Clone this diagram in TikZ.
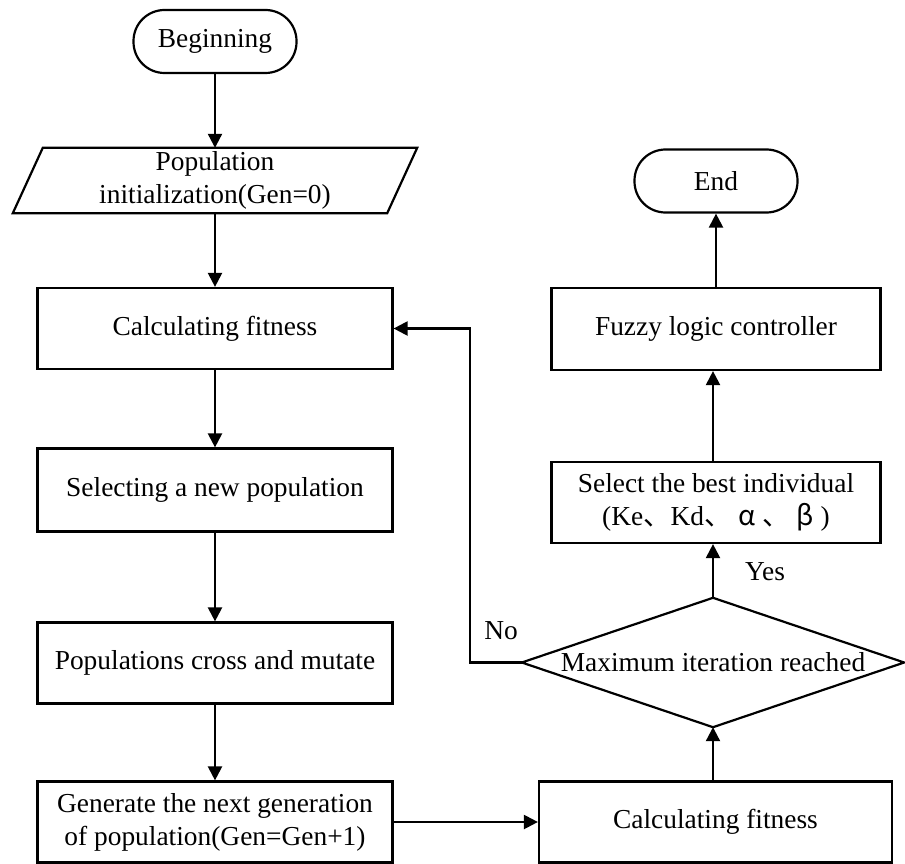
\documentclass[tikz,border=0pt]{standalone}
\usepackage{fontspec}
\setmainfont{Liberation Serif}
\newfontfamily\cjk{Noto Sans CJK SC}
\usetikzlibrary{arrows.meta}
\tikzset{
  every node/.style={font=\fontsize{27.4}{33}\selectfont},
  lw/.style={line width=2.2pt},
  term/.style={lw, draw, rounded corners=31pt, minimum width=163, minimum height=63, inner sep=0},
  box/.style={lw, draw, minimum width=355, minimum height=81, inner sep=0, align=center},
  plain/.style={inner sep=0, align=center},
  arr/.style={lw, -{Triangle[length=14pt,width=14pt]}},
  ln/.style={lw}
}
\begin{document}
\begin{tikzpicture}[x=1pt,y=-1pt]
\useasboundingbox (0,0) rectangle (905,864);
% left column
\node[term] (begin) at (215,41.5) {Beginning};
\node[plain, minimum width=404, minimum height=65] (init) at (215,180.5) {Population\\initialization(Gen=0)};
\draw[ln] ([xshift=30]init.north west) -- (init.north east) -- ([xshift=-30]init.south east) -- (init.south west) -- cycle;
\node[box] (calc1) at (215,328.5) {Calculating fitness};
\node[box, minimum height=83] (sel) at (215,490) {Selecting a new population};
\node[box] (cross) at (215,663) {Populations cross and mutate};
\node[box] (gen) at (215,822) {Generate the next generation\\of population(Gen=Gen+1)};
% right column
\node[term] (end) at (716,181) {End};
\node[box, minimum width=329, minimum height=82] (fuzzy) at (716,329) {Fuzzy logic controller};
\node[box, minimum width=329, minimum height=81] (best) at (716,502.5) {Select the best individual\\(Ke{\cjk 、}Kd{\cjk 、} {\cjk α} {\cjk 、} {\cjk β} )};
\node[plain, minimum width=382, minimum height=129] (dec) at (713,662.5) {Maximum iteration reached};
\draw[ln] (dec.north) -- (dec.east) -- (dec.south) -- (dec.west) -- cycle;
\node[box, minimum width=353] (calc2) at (715.5,822) {Calculating fitness};
% connectors
\draw[arr] (begin) -- (init);
\draw[arr] (init) -- (calc1);
\draw[arr] (calc1) -- (sel);
\draw[arr] (sel) -- (cross);
\draw[arr] (cross) -- (gen);
\draw[arr] (gen) -- (calc2);
\draw[arr] (calc2.north -| dec.south) -- (dec.south);
\draw[arr] (dec.north) -- (dec.north |- best.south);
\draw[arr] (best.north -| dec.north) -- (dec.north |- fuzzy.south);
\draw[arr] (fuzzy.north -| end.south) -- (end.south);
\coordinate (loop) at (470,662.5);
\draw[arr] (dec.west) -- (loop) |- (calc1.east);
% labels
\node[plain] (no) at (501,631) {No};
\node[plain] (yes) at (765,572) {Yes};
\end{tikzpicture}
\end{document}
